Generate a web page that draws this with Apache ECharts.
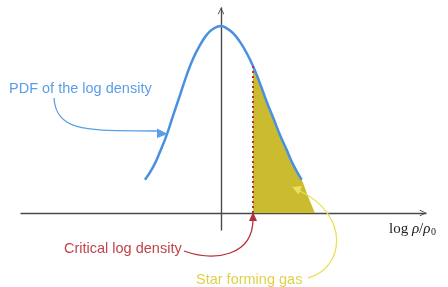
<!DOCTYPE html>
<html>
<head>
<meta charset="utf-8">
<script src="https://cdn.jsdelivr.net/npm/echarts@6/dist/echarts.min.js"></script>
<style>
html, body { margin: 0; padding: 0; background: #fff; }
#chart { width: 448px; height: 287px; }
</style>
</head>
<body>
<div id="chart"></div>
<script>
// log density (x) and PDF value (y)
var logDensity = [-1.854, -1.651, -1.488, -1.324, -1.163, -1.0, -0.837, -0.676, -0.512, -0.349, -0.188, 0,
                  0.139, 0.3, 0.463, 0.627, 0.788, 0.951, 1.115, 1.276, 1.439, 1.602, 1.763, 1.968];
var pdfValue = [0.071, 0.099, 0.131, 0.167, 0.21, 0.252, 0.295, 0.331, 0.359, 0.381, 0.394, 0.4,
                0.395, 0.384, 0.366, 0.342, 0.313, 0.277, 0.238, 0.203, 0.167, 0.135, 0.103, 0.071];
// star forming part: from the critical density on, running down to the axis
var gasX = [0.78, 0.951, 1.115, 1.276, 1.439, 1.602, 1.763, 1.968, 2.122, 2.22, 2.293];
var gasY = [0.314, 0.277, 0.238, 0.203, 0.167, 0.135, 0.103, 0.071, 0.036, 0.015, 0];
var critical = 0.78;
var criticalPdf = 0.314;

var chart = echarts.init(document.getElementById('chart'));

var axisColor = '#4a4a4a';
var chevron = 'path://M0,10 L5,0 L10,10 L8.9,10.7 L5,2.6 L1.1,10.7 Z';
var textFont = '14.5px "Liberation Sans"';

function pairs(xs, ys) {
	return xs.map(function (x, i) { return [x, ys[i]]; });
}

var option = {
	animation: false,
	grid: { left: 21, right: 22, top: 8, bottom: 57 },
	xAxis: {
		type: 'value',
		min: -4.878,
		max: 5,
		axisLine: {
			lineStyle: { color: axisColor, width: 1.4 },
			symbol: ['none', chevron],
			symbolSize: [9, 7],
			symbolOffset: [0, -3]
		},
		axisTick: { show: false },
		axisLabel: { show: false },
		splitLine: { show: false }
	},
	yAxis: {
		type: 'value',
		min: -0.0364,
		max: 0.4385,
		axisLine: {
			lineStyle: { color: axisColor, width: 1.4 },
			symbol: ['none', chevron],
			symbolSize: [9, 7],
			symbolOffset: [0, -3]
		},
		axisTick: { show: false },
		axisLabel: { show: false },
		splitLine: { show: false }
	},
	series: [
		{
			type: 'line',
			data: pairs(gasX, gasY),
			smooth: 0.3,
			symbol: 'none',
			lineStyle: { width: 0 },
			areaStyle: { color: '#cbbb2f', opacity: 1 },
			silent: true,
			markLine: {
				silent: true,
				symbol: 'none',
				label: { show: false },
				lineStyle: { color: '#b3303a', type: [2, 3], width: 2 },
				data: [[{ coord: [critical, 0] }, { coord: [critical, criticalPdf] }]]
			}
		},
		{
			type: 'line',
			data: pairs(logDensity, pdfValue),
			smooth: true,
			symbol: 'none',
			lineStyle: { color: '#4a90e2', width: 2.5 },
			silent: true
		}
	],
	graphic: [
		{ type: 'text', z: 100, left: 9, top: 81, style: { text: 'PDF of the log density', fill: '#5b9ee8', font: textFont } },
		{ type: 'bezierCurve', z: 100, shape: { x1: 54, y1: 98, cpx1: 56, cpy1: 135, cpx2: 95, cpy2: 130, x2: 158, y2: 131 },
			style: { stroke: '#5b9ee8', lineWidth: 1.3, fill: null } },
		{ type: 'polygon', z: 100, shape: { points: [[168, 134], [157, 128.5], [157, 138]] }, style: { fill: '#5b9ee8' } },

		{ type: 'text', z: 100, left: 64, top: 241, style: { text: 'Critical log density', fill: '#c0444a', font: textFont } },
		{ type: 'bezierCurve', z: 100, shape: { x1: 184, y1: 251, cpx1: 215, cpy1: 262, cpx2: 253, cpy2: 256, x2: 253, y2: 219 },
			style: { stroke: '#b3303a', lineWidth: 1.3, fill: null } },
		{ type: 'polygon', z: 100, shape: { points: [[253, 212], [249, 221], [257, 221]] }, style: { fill: '#b3303a' } },

		{ type: 'text', z: 100, left: 196, top: 272, style: { text: 'Star forming gas', fill: '#e0d04a', font: textFont } },
		{ type: 'bezierCurve', z: 100, shape: { x1: 308, y1: 278, cpx1: 345, cpy1: 268, cpx2: 350, cpy2: 215, x2: 300, y2: 191 },
			style: { stroke: '#ecdf5a', lineWidth: 1.3, fill: null } },
		{ type: 'polygon', z: 100, shape: { points: [[292, 187], [302, 186], [298.7, 194.5]] }, style: { fill: '#ecdf5a' } },

		{ type: 'text', z: 100, left: 389, top: 222, style: {
			text: '{r|log }{i|ρ}{r|/}{i|ρ}',
			rich: {
				r: { font: '15px "Liberation Serif"', fill: '#222' },
				i: { font: 'italic 15px "Liberation Serif"', fill: '#222' }
			}
		} },
		{ type: 'text', z: 100, left: 431, top: 227, style: { text: '0', fill: '#222', font: '10px "Liberation Serif"' } }
	]
};

chart.setOption(option);
</script>
</body>
</html>
